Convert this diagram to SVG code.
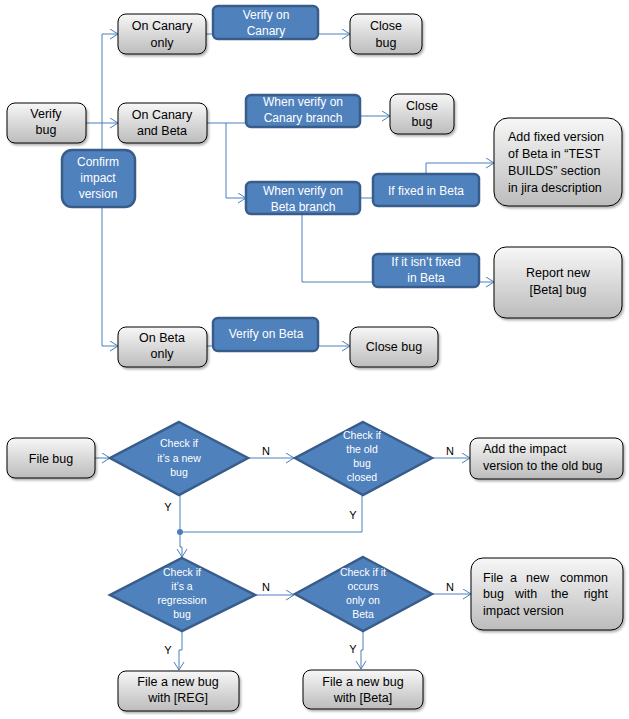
<svg xmlns="http://www.w3.org/2000/svg" width="629" height="719" viewBox="0 0 629 719">
<defs>
<linearGradient id="gg" x1="0" y1="0" x2="0" y2="1">
<stop offset="0" stop-color="#f7f7f7"/>
<stop offset="1" stop-color="#bcbcbc"/>
</linearGradient>
<filter id="sh" x="-10%" y="-10%" width="125%" height="135%">
<feDropShadow dx="1.5" dy="2" stdDeviation="1.2" flood-color="#000" flood-opacity="0.3"/>
</filter>
<marker id="ar" markerUnits="userSpaceOnUse" markerWidth="11" markerHeight="12" refX="8.5" refY="5.5" orient="auto" viewBox="0 0 11 12">
<path d="M0.5,0.5 L8.5,5.5 L0.5,10.5" fill="none" stroke="#4a7ebb" stroke-width="1"/>
</marker>
</defs>
<style>
.g{fill:url(#gg);stroke:#000;stroke-width:1;filter:url(#sh)}
.b{fill:#4f81bd;stroke:#385d8a;stroke-width:2.5}
.d{fill:#4f81bd;stroke:#385d8a;stroke-width:2.5}
.t{font-family:"Liberation Sans",Arial,sans-serif;font-size:12.5px;fill:#000;text-anchor:middle}
.tl{font-family:"Liberation Sans",Arial,sans-serif;font-size:12.5px;fill:#000}
.w{font-family:"Liberation Sans",Arial,sans-serif;font-size:12px;fill:#fff;text-anchor:middle}
.wd{font-family:"Liberation Sans",Arial,sans-serif;font-size:10.5px;fill:#fff;text-anchor:middle}
.lb{font-family:"Liberation Sans",Arial,sans-serif;font-size:11px;fill:#000;text-anchor:middle}
.c{fill:none;stroke:#4a7ebb;stroke-width:1}
.a{marker-end:url(#ar)}
</style>

<g id="connectors">
<path class="c" d="M102,34 V346"/>
<path class="c a" d="M102,34 H118"/>
<path class="c a" d="M86,123 H118"/>
<path class="c a" d="M102,346 H118"/>
<path class="c a" d="M206,34 H350"/>
<path class="c" d="M207,123 H246"/>
<path class="c a" d="M226,123 V198 H246"/>
<path class="c a" d="M360,116 H390"/>
<path class="c" d="M360,198 H373"/>
<path class="c a" d="M426,174 V163 H494"/>
<path class="c a" d="M302,214 V282 H494"/>
<path class="c a" d="M207,346 H350"/>
<path class="c a" d="M95,458 H110"/>
<path class="c a" d="M248,458 H294"/>
<path class="c a" d="M432,458 H470"/>
<path class="c a" d="M180,495 V547 H182 V557"/>
<path class="c" d="M362,495 V532 H180"/>
<circle cx="180" cy="532" r="3" fill="#4a7ebb"/>
<path class="c a" d="M255,595 H294"/>
<path class="c a" d="M432,594 H471"/>
<path class="c a" d="M182,631 V650 H179 V670"/>
<path class="c a" d="M363,631 V650 H361 V669"/>
<text class="lb" x="266" y="455">N</text>
<text class="lb" x="450" y="455">N</text>
<text class="lb" x="168" y="511">Y</text>
<text class="lb" x="353" y="519">Y</text>
<text class="lb" x="266" y="591">N</text>
<text class="lb" x="450" y="591">N</text>
<text class="lb" x="168" y="654">Y</text>
<text class="lb" x="353" y="653">Y</text>
</g>

<g id="verify-bug"><rect class="g" x="7" y="103" width="79" height="40" rx="8"/><text class="t" x="46" y="118">Verify</text><text class="t" x="46" y="134">bug</text></g>
<g id="on-canary-only"><rect class="g" x="118" y="14" width="88" height="40" rx="8"/><text class="t" x="162" y="30">On Canary</text><text class="t" x="162" y="47">only</text></g>
<g id="on-canary-beta"><rect class="g" x="118" y="103" width="89" height="40" rx="8"/><text class="t" x="162" y="119">On Canary</text><text class="t" x="162" y="135">and Beta</text></g>
<g id="confirm"><rect class="b" x="62" y="150" width="73" height="57" rx="10"/><text class="w" x="98" y="166">Confirm</text><text class="w" x="98" y="182">impact</text><text class="w" x="98" y="198">version</text></g>
<g id="verify-canary"><rect class="b" x="213" y="6" width="105" height="33" rx="5"/><text class="w" x="266" y="19">Verify on</text><text class="w" x="266" y="35">Canary</text></g>
<g id="close1"><rect class="g" x="350" y="14" width="72" height="40" rx="8"/><text class="t" x="386" y="30">Close</text><text class="t" x="386" y="47">bug</text></g>
<g id="when-canary"><rect class="b" x="246" y="95" width="114" height="32" rx="5"/><text class="w" x="303" y="106">When verify on</text><text class="w" x="303" y="122">Canary branch</text></g>
<g id="close2"><rect class="g" x="390" y="94" width="64" height="40" rx="8"/><text class="t" x="422" y="110">Close</text><text class="t" x="422" y="126">bug</text></g>
<g id="when-beta"><rect class="b" x="246" y="182" width="114" height="32" rx="5"/><text class="w" x="303" y="195">When verify on</text><text class="w" x="303" y="211">Beta branch</text></g>
<g id="if-fixed"><rect class="b" x="373" y="174" width="106" height="32" rx="5"/><text class="w" x="426" y="195">If fixed in Beta</text></g>
<g id="add-fixed"><rect class="g" x="494" y="118" width="128" height="88" rx="14"/><text class="tl" x="508" y="141">Add fixed version</text><text class="tl" x="508" y="158">of Beta in “TEST</text><text class="tl" x="508" y="175">BUILDS” section</text><text class="tl" x="508" y="192">in jira description</text></g>
<g id="if-not-fixed"><rect class="b" x="373" y="254" width="106" height="33" rx="5"/><text class="w" x="426" y="266">If it isn’t fixed</text><text class="w" x="426" y="282">in Beta</text></g>
<g id="report-beta"><rect class="g" x="494" y="247" width="128" height="71" rx="12"/><text class="t" x="558" y="277">Report new</text><text class="t" x="558" y="294">[Beta] bug</text></g>
<g id="on-beta-only"><rect class="g" x="118" y="327" width="89" height="40" rx="8"/><text class="t" x="162" y="342">On Beta</text><text class="t" x="162" y="358">only</text></g>
<g id="verify-beta"><rect class="b" x="213" y="318" width="105" height="33" rx="5"/><text class="w" x="266" y="338">Verify on Beta</text></g>
<g id="close3"><rect class="g" x="350" y="327" width="88" height="40" rx="8"/><text class="t" x="394" y="351">Close bug</text></g>

<g id="file-bug"><rect class="g" x="7" y="438" width="88" height="40" rx="8"/><text class="t" x="51" y="463">File bug</text></g>
<g id="check-new"><polygon class="d" points="179,422 248,458 179,495 110,458"/><text class="wd" x="179" y="447">Check if</text><text class="wd" x="179" y="462">it’s a new</text><text class="wd" x="179" y="476">bug</text></g>
<g id="check-closed"><polygon class="d" points="363,422 432,458 363,495 295,458"/><text class="wd" x="362" y="439">Check if</text><text class="wd" x="362" y="453">the old</text><text class="wd" x="362" y="467">bug</text><text class="wd" x="362" y="481">closed</text></g>
<g id="add-impact"><rect class="g" x="470" y="438" width="153" height="41" rx="8"/><text class="tl" x="483" y="453">Add the impact</text><text class="tl" x="483" y="470">version to the old bug</text></g>
<g id="check-regression"><polygon class="d" points="182,558 255,595 182,631 110,595"/><text class="wd" x="182" y="576">Check if</text><text class="wd" x="182" y="590">it’s a</text><text class="wd" x="182" y="604">regression</text><text class="wd" x="182" y="618">bug</text></g>
<g id="check-beta"><polygon class="d" points="363,557 432,594 363,631 295,594"/><text class="wd" x="363" y="576">Check if it</text><text class="wd" x="363" y="590">occurs</text><text class="wd" x="363" y="604">only on</text><text class="wd" x="363" y="618">Beta</text></g>
<g id="file-common"><rect class="g" x="471" y="558" width="152" height="72" rx="12"/>
<text class="tl" y="582"><tspan x="483">File</tspan><tspan x="510">a</tspan><tspan x="526">new</tspan><tspan x="608" text-anchor="end">common</tspan></text>
<text class="tl" y="598"><tspan x="483">bug</tspan><tspan x="515">with</tspan><tspan x="551">the</tspan><tspan x="608" text-anchor="end">right</tspan></text>
<text class="tl" x="483" y="615">impact version</text></g>
<g id="file-reg"><rect class="g" x="118" y="671" width="121" height="40" rx="8"/><text class="t" x="178" y="686">File a new bug</text><text class="t" x="178" y="702">with [REG]</text></g>
<g id="file-beta"><rect class="g" x="303" y="670" width="120" height="39" rx="8"/><text class="t" x="363" y="686">File a new bug</text><text class="t" x="363" y="702">with [Beta]</text></g>
</svg>
